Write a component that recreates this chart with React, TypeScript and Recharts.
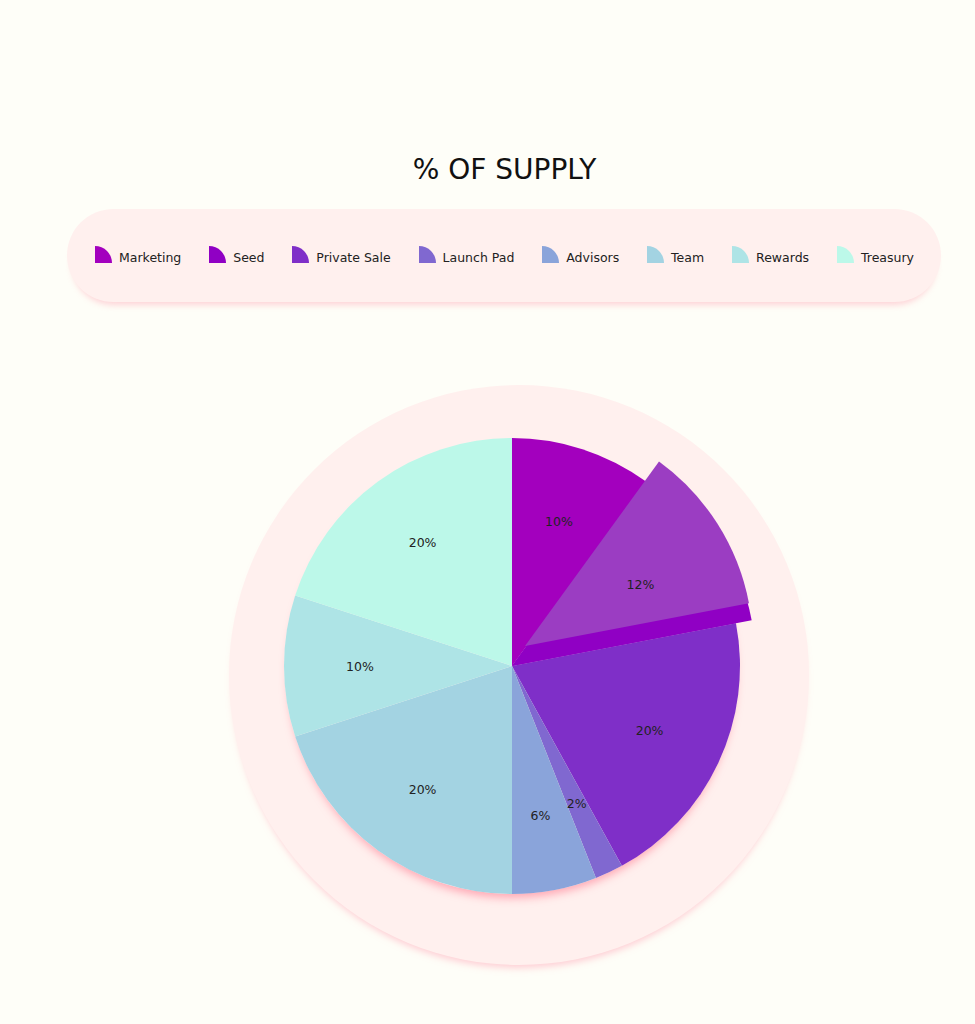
import { PieChart, Pie, Cell } from 'recharts'

const categories = ['Marketing', 'Seed', 'Private Sale', 'Launch Pad', 'Advisors', 'Team', 'Rewards', 'Treasury']
const supply = [10, 12, 20, 2, 6, 20, 10, 20]
const colors = ['#A300BE', '#9000C4', '#7F2FC8', '#8068D0', '#8AA4DA', '#A3D3E2', '#AEE4E6', '#BCF8E9']
const SEED_TOP = '#9B3DC2'
const SEED_INDEX = 1

const FONT = '"Comic Sans MS", "DejaVu Sans", sans-serif'
const BG = '#FEFEF8'
const PINK = '#FFF0EE'

const data = categories.map((name, i) => ({ name, value: supply[i] }))

const RADIAN = Math.PI / 180

function renderLabel(props: any) {
  const { cx, cy, midAngle, outerRadius, value } = props
  const r = outerRadius * 0.667
  const x = cx + r * Math.cos(-midAngle * RADIAN)
  const y = cy + r * Math.sin(-midAngle * RADIAN)
  return (
    <text x={x} y={y} fill="#222" fontSize={12.5} fontFamily={FONT} textAnchor="middle" dominantBaseline="central">
      {`${value}%`}
    </text>
  )
}

function LegendIcon({ color }: { color: string }) {
  return (
    <svg width={17} height={17} style={{ display: 'block' }}>
      <path d="M0,17 L0,0 A17,17 0 0 1 17,17 Z" fill={color} />
    </svg>
  )
}

export default function App() {
  const cx = 512
  const cy = 666
  return (
    <div style={{ position: 'absolute', left: 0, top: 0, width: 975, height: 1024, background: BG, fontFamily: FONT, overflow: 'hidden' }}>
      <div style={{ position: 'absolute', left: 0, width: 1009, top: 153, textAlign: 'center', fontSize: 28, color: '#111' }}>
        % OF SUPPLY
      </div>

      {/* legend pill */}
      <div
        style={{
          position: 'absolute',
          left: 67,
          top: 209,
          width: 874,
          height: 93,
          borderRadius: 47,
          background: PINK,
          boxShadow: '0 8px 6px -5px rgba(255,160,175,0.45)',
          display: 'flex',
          alignItems: 'center',
          justifyContent: 'space-between',
          padding: '3px 27px 0 28px',
          boxSizing: 'border-box',
        }}
      >
        {categories.map((c, i) => (
          <span key={c} style={{ display: 'flex', alignItems: 'center', gap: 7 }}>
            <span style={{ marginTop: -5 }}>
              <LegendIcon color={colors[i]} />
            </span>
            <span style={{ fontSize: 12.5, color: '#222' }}>{c}</span>
          </span>
        ))}
      </div>

      {/* background disc */}
      <div
        style={{
          position: 'absolute',
          left: 519 - 290,
          top: 675 - 290,
          width: 580,
          height: 580,
          borderRadius: '50%',
          background: PINK,
          boxShadow: '0 7px 7px -4px rgba(255,160,178,0.5)',
        }}
      />
      {/* pie shadow */}
      <div
        style={{
          position: 'absolute',
          left: cx - 228,
          top: cy - 228,
          width: 456,
          height: 456,
          borderRadius: '50%',
          background: PINK,
          boxShadow: '0 8px 8px -4px rgba(255,130,150,0.65)',
        }}
      />

      <div style={{ position: 'absolute', left: 0, top: 0 }}>
        <PieChart width={975} height={1024} margin={{ top: 0, right: 0, bottom: 0, left: 0 }}>
          <Pie
            data={data}
            dataKey="value"
            cx={cx}
            cy={cy}
            outerRadius={228}
            startAngle={90}
            endAngle={-270}
            stroke="none"
            isAnimationActive={false}
          >
            {data.map((d, i) => (
              <Cell key={d.name} fill={colors[i]} />
            ))}
          </Pie>
          {/* raised Seed slice: dark base */}
          <Pie
            data={data}
            dataKey="value"
            cx={cx}
            cy={cy}
            outerRadius={244}
            startAngle={90}
            endAngle={-270}
            stroke="none"
            legendType="none"
            isAnimationActive={false}
          >
            {data.map((d, i) => (
              <Cell key={d.name} fill={i === SEED_INDEX ? colors[i] : 'transparent'} />
            ))}
          </Pie>
          {/* raised Seed slice: top face */}
          <Pie
            data={data}
            dataKey="value"
            cx={cx + 13}
            cy={cy - 20}
            outerRadius={228}
            startAngle={90}
            endAngle={-270}
            stroke="none"
            legendType="none"
            isAnimationActive={false}
          >
            {data.map((d, i) => (
              <Cell key={d.name} fill={i === SEED_INDEX ? SEED_TOP : 'transparent'} />
            ))}
          </Pie>
          <Pie
            data={data}
            dataKey="value"
            cx={cx}
            cy={cy}
            outerRadius={228}
            startAngle={90}
            endAngle={-270}
            stroke="none"
            fill="transparent"
            legendType="none"
            label={renderLabel}
            labelLine={false}
            isAnimationActive={false}
          >
            {data.map((d) => (
              <Cell key={d.name} fill="transparent" />
            ))}
          </Pie>
        </PieChart>
      </div>
    </div>
  )
}
